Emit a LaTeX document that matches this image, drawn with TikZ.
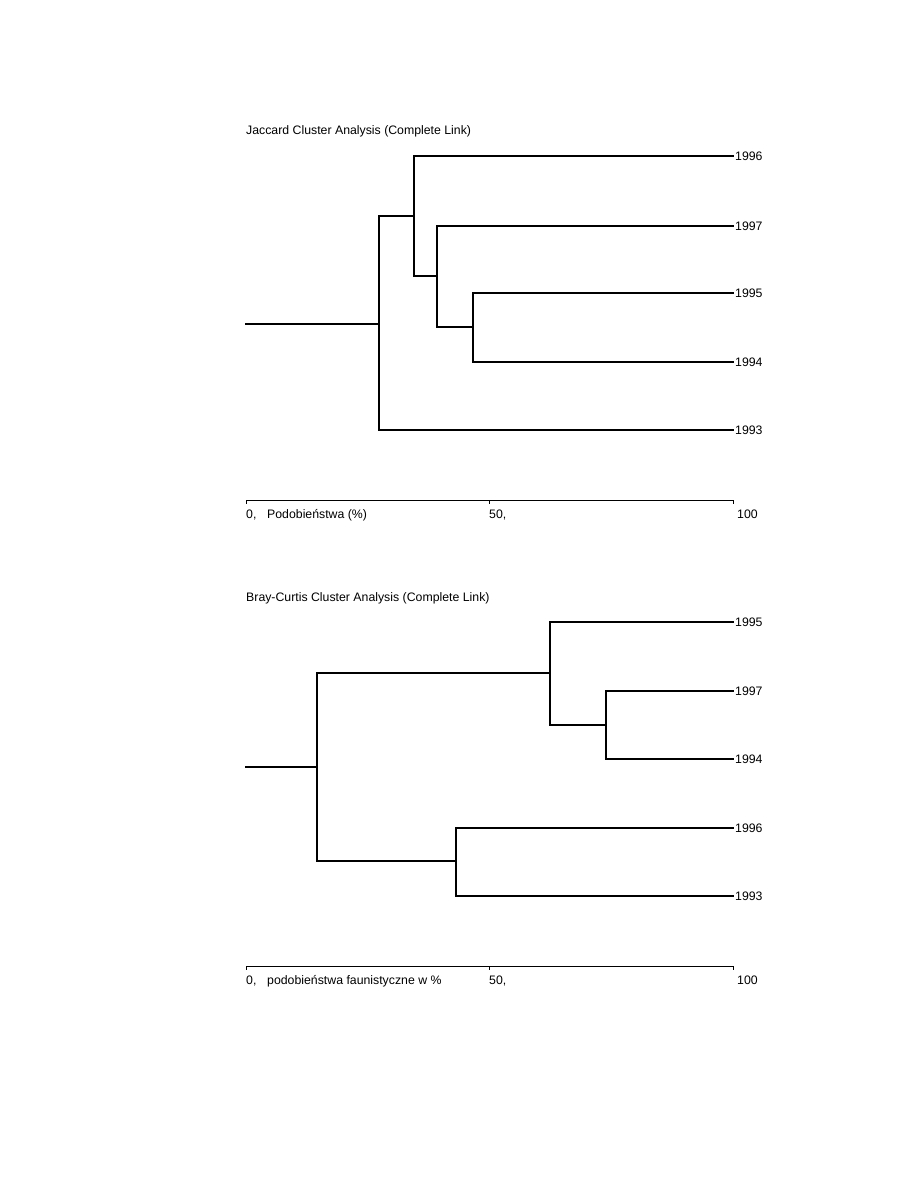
\documentclass[tikz,border=0pt]{standalone}
\usepackage{fontspec}
\setmainfont{Liberation Sans}
\begin{document}
\begin{tikzpicture}[x=1pt,y=-1pt,
  br/.style={line width=2pt,line cap=rect},
  thinbr/.style={line width=1.2pt,line cap=rect},
  axisline/.style={line width=0.8pt},
  leaf/.style={anchor=west,inner sep=2pt,font=\fontsize{12.3}{13}\selectfont},
  ttl/.style={anchor=base west,inner sep=0pt,font=\fontsize{12.3}{13}\selectfont},
  ticklbl/.style={anchor=base west,inner sep=0pt,font=\fontsize{12.3}{13}\selectfont}]
\useasboundingbox (0,0) rectangle (918,1188);

% ---------- Top: Jaccard ----------
\node[ttl] (t1) at (246,135) {Jaccard Cluster Analysis (Complete Link)};
\node[leaf] (a96) at (733,156) {1996};
\node[leaf] (a97) at (733,226) {1997};
\node[leaf] (a95) at (733,293) {1995};
\node[leaf] (a94) at (733,362) {1994};
\node[leaf] (a93) at (733,430) {1993};
\coordinate (aj1) at (473,327);
\coordinate (aj2) at (437,276);
\coordinate (aj3) at (414,216);
\coordinate (aj4) at (379,324);
\coordinate (aroot) at (246,324);
\draw[br] (a95.west) -| (aj1) |- (a94.west);
\draw[br] (a97.west) -| (aj2);
\draw[thinbr] (aj2) -- (437,327);
\draw[br] (437,327) -- (aj1);
\draw[br] (a96.west) -| (aj3) |- (aj2);
\draw[br] (aj3) -| (aj4) |- (a93.west);
\draw[br] (aroot) -- (aj4);
% axis
\coordinate (ax0) at (246,500);
\coordinate (ax1) at (733,500);
\draw[axisline] (ax0) -- (ax1);
\draw[axisline] (246,500) -- (246,504) (489,500) -- (489,504) (733,500) -- (733,504);
\node[ticklbl] (l0) at (246,518) {0,};
\node[ticklbl] (lp) at (267,518) {Podobieństwa (\%)};
\node[ticklbl] (l50) at (489,518) {50,};
\node[ticklbl] (l100) at (737,518) {100};

% ---------- Bottom: Bray-Curtis ----------
\node[ttl] (t2) at (246,601) {Bray-Curtis Cluster Analysis (Complete Link)};
\node[leaf] (b95) at (733,622) {1995};
\node[leaf] (b97) at (733,691) {1997};
\node[leaf] (b94) at (733,759) {1994};
\node[leaf] (b96) at (733,828) {1996};
\node[leaf] (b93) at (733,896) {1993};
\coordinate (bj1) at (606,725);
\coordinate (bj2) at (550,673);
\coordinate (bj3) at (456,861);
\coordinate (bj4) at (317,767);
\coordinate (broot) at (246,767);
\draw[thinbr] (b97.west) -- (606,691);
\draw[br] (606,691) -- (bj1) |- (b94.west);
\draw[br] (b95.west) -| (bj2) |- (bj1);
\draw[br] (b96.west) -| (bj3) |- (b93.west);
\draw[br] (bj2) -| (bj4) |- (bj3);
\draw[br] (broot) -- (bj4);
% axis
\coordinate (bx0) at (246,966);
\coordinate (bx1) at (733,966);
\draw[axisline] (bx0) -- (bx1);
\draw[axisline] (246,966) -- (246,970) (489,966) -- (489,970) (733,966) -- (733,970);
\node[ticklbl] (m0) at (246,984) {0,};
\node[ticklbl] (mp) at (267,984) {podobieństwa faunistyczne w \%};
\node[ticklbl] (m50) at (489,984) {50,};
\node[ticklbl] (m100) at (737,984) {100};
\end{tikzpicture}
\end{document}
